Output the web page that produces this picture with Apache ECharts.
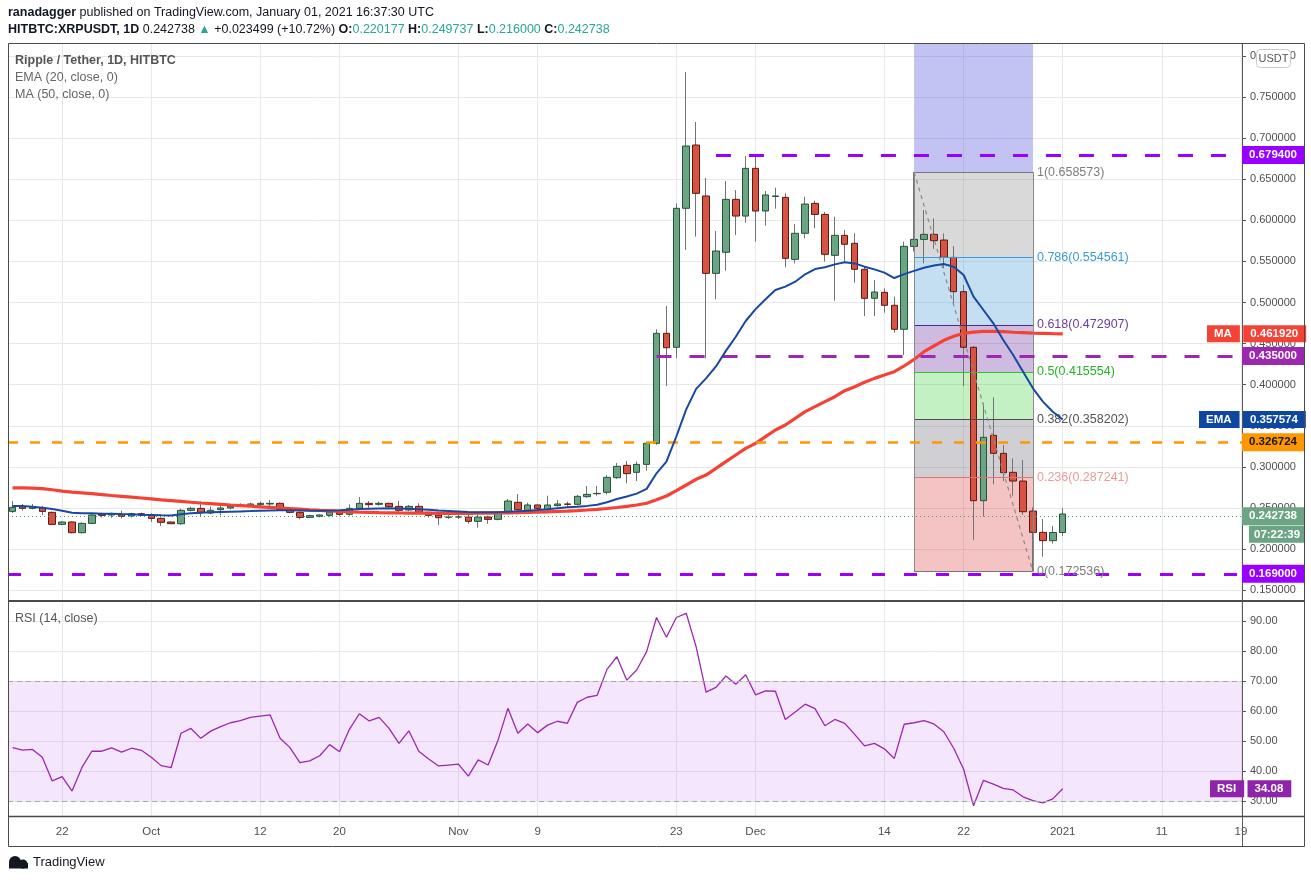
<!DOCTYPE html>
<html><head><meta charset="utf-8">
<script src="https://cdn.jsdelivr.net/npm/echarts@6/dist/echarts.min.js"></script>
<style>html,body{margin:0;padding:0;background:#fff;}#c{width:1311px;height:881px;}</style>
</head><body><div id="c"></div>
<script>
// ---------- DATA ----------
// day index 0 = 2020-09-17 ... 106 = 2021-01-01
const open = [
0.2459,0.2516,0.2496,0.2500,0.2447,0.2301,0.2330,0.2200,0.2313,0.2427,
0.2415,0.2423,0.2403,0.2431,0.2415,0.2374,0.2330,0.2309,0.2472,0.2496,
0.2439,0.2480,0.2500,0.2524,0.2532,0.2541,0.2549,0.2557,0.2476,0.2447,
0.2386,0.2399,0.2411,0.2447,0.2423,0.2496,0.2557,0.2545,0.2557,0.2520,
0.2476,0.2520,0.2447,0.2415,0.2388,0.2390,0.2390,0.2338,0.2390,0.2362,
0.2447,0.2569,0.2472,0.2537,0.2480,0.2529,0.2549,0.2545,0.2638,0.2674,
0.2691,0.2869,0.3019,0.2934,0.3031,0.3287,0.4625,0.4455,0.6146,0.6916,
0.6296,0.5355,0.5611,0.6255,0.6052,0.6632,0.6113,0.6290,0.6279,0.5525,
0.5842,0.6206,0.6072,0.5574,0.5817,0.5720,0.5404,0.5051,0.5124,0.4966,
0.4674,0.5683,0.5768,0.5829,0.5760,0.5549,0.5132,0.4455,0.2589,0.3384,
0.3165,0.2934,0.2828,0.2463,0.2204,0.2103,0.220177];
const high = [
0.2585,0.2549,0.2549,0.2524,0.2459,0.2338,0.2338,0.2326,0.2435,0.2443,
0.2443,0.2468,0.2443,0.2443,0.2435,0.2386,0.2334,0.2492,0.2516,0.2581,
0.2516,0.2524,0.2532,0.2557,0.2565,0.2577,0.2597,0.2565,0.2496,0.2459,
0.2419,0.2423,0.2476,0.2456,0.2545,0.2634,0.2585,0.2577,0.2565,0.2585,
0.2537,0.2557,0.2456,0.2431,0.2423,0.2415,0.2423,0.2427,0.2407,0.2464,
0.2610,0.2670,0.2565,0.2545,0.2650,0.2597,0.2578,0.2658,0.2768,0.2768,
0.2902,0.3048,0.3072,0.3064,0.3307,0.4674,0.4958,0.6205,0.7804,0.7196,
0.6515,0.5870,0.6478,0.6369,0.6782,0.6794,0.6357,0.6397,0.6328,0.5955,
0.6287,0.6239,0.6101,0.6044,0.5882,0.5842,0.5444,0.5274,0.5172,0.5071,
0.5740,0.6586,0.6125,0.6024,0.5841,0.5687,0.5213,0.4471,0.3773,0.3846,
0.3266,0.3104,0.3084,0.2508,0.2366,0.2281,0.249737];
const low = [
0.2440,0.2468,0.2484,0.2411,0.2289,0.2293,0.2192,0.2192,0.2305,0.2386,
0.2380,0.2374,0.2386,0.2403,0.2330,0.2281,0.2305,0.2297,0.2459,0.2395,
0.2423,0.2411,0.2484,0.2516,0.2516,0.2524,0.2516,0.2468,0.2435,0.2362,
0.2378,0.2386,0.2395,0.2407,0.2407,0.2476,0.2496,0.2529,0.2504,0.2435,
0.2464,0.2423,0.2382,0.2293,0.2366,0.2366,0.2309,0.2261,0.2309,0.2350,
0.2423,0.2423,0.2455,0.2472,0.2464,0.2516,0.2516,0.2529,0.2626,0.2650,
0.2666,0.2853,0.2800,0.2828,0.2954,0.3270,0.3984,0.4321,0.5639,0.5801,
0.4321,0.5039,0.5387,0.5821,0.5971,0.5740,0.5935,0.6142,0.5428,0.5477,
0.5781,0.5902,0.5497,0.5022,0.5497,0.5241,0.4836,0.4836,0.4876,0.4633,
0.4361,0.5620,0.5476,0.5651,0.5416,0.4990,0.3984,0.2111,0.2395,0.2788,
0.2828,0.2650,0.2415,0.1725,0.1908,0.2070,0.2160];
const close = [
0.2508,0.2496,0.2516,0.2459,0.2301,0.2330,0.2200,0.2313,0.2415,0.2411,
0.2427,0.2399,0.2431,0.2411,0.2374,0.2326,0.2309,0.2472,0.2496,0.2447,
0.2472,0.2500,0.2520,0.2536,0.2549,0.2557,0.2557,0.2484,0.2447,0.2386,
0.2407,0.2415,0.2451,0.2423,0.2496,0.2557,0.2541,0.2557,0.2516,0.2472,
0.2520,0.2447,0.2411,0.2382,0.2390,0.2392,0.2338,0.2390,0.2362,0.2447,
0.2585,0.2480,0.2537,0.2496,0.2537,0.2549,0.2545,0.2642,0.2666,0.2678,
0.2873,0.3007,0.2918,0.3031,0.3287,0.4625,0.4450,0.6146,0.6904,0.6328,
0.5355,0.5627,0.6255,0.6052,0.6632,0.6113,0.6308,0.6296,0.5537,0.5842,
0.6198,0.6072,0.5586,0.5817,0.5708,0.5404,0.5051,0.5128,0.4966,0.4674,
0.5683,0.5768,0.5829,0.5752,0.5549,0.5132,0.4455,0.2589,0.3360,0.3165,
0.2930,0.2828,0.2455,0.2204,0.2103,0.2202,0.242738];
const ema20 = [
0.2524,0.2524,0.2516,0.2504,0.2488,0.2468,0.2443,0.2435,0.2435,0.2431,
0.2431,0.2427,0.2425,0.2419,0.2415,0.2411,0.2410,0.2423,0.2435,0.2443,
0.2447,0.2451,0.2455,0.2459,0.2463,0.2468,0.2470,0.2472,0.2472,0.2470,
0.2468,0.2467,0.2470,0.2474,0.2480,0.2488,0.2492,0.2495,0.2496,0.2494,
0.2490,0.2485,0.2478,0.2470,0.2464,0.2458,0.2452,0.2448,0.2447,0.2450,
0.2456,0.2462,0.2468,0.2476,0.2486,0.2498,0.2508,0.2516,0.2526,0.2540,
0.2570,0.2610,0.2640,0.2675,0.2733,0.2922,0.3064,0.3370,0.3700,0.3950,
0.4077,0.4222,0.4412,0.4584,0.4775,0.4920,0.5039,0.5152,0.5193,0.5253,
0.5343,0.5407,0.5428,0.5464,0.5489,0.5476,0.5436,0.5403,0.5363,0.5298,
0.5345,0.5385,0.5422,0.5450,0.5468,0.5436,0.5335,0.5071,0.4909,0.4747,
0.4544,0.4361,0.4159,0.3956,0.3794,0.3672,0.357574];
const ma50 = [
0.2745,0.2745,0.2742,0.2735,0.2722,0.2705,0.2694,0.2684,0.2674,0.2663,
0.2652,0.2642,0.2632,0.2622,0.2611,0.2600,0.2590,0.2580,0.2570,0.2561,
0.2553,0.2545,0.2537,0.2530,0.2523,0.2515,0.2508,0.2500,0.2493,0.2486,
0.2478,0.2471,0.2465,0.2459,0.2454,0.2450,0.2447,0.2444,0.2442,0.2440,
0.2439,0.2438,0.2437,0.2436,0.2436,0.2436,0.2436,0.2437,0.2438,0.2440,
0.2442,0.2444,0.2447,0.2450,0.2454,0.2458,0.2463,0.2469,0.2476,0.2484,
0.2494,0.2506,0.2520,0.2537,0.2558,0.2600,0.2646,0.2711,0.2780,0.2849,
0.2901,0.2983,0.3064,0.3145,0.3226,0.3287,0.3368,0.3449,0.3510,0.3591,
0.3672,0.3733,0.3794,0.3854,0.3927,0.3976,0.4029,0.4077,0.4118,0.4159,
0.4228,0.4308,0.4402,0.4471,0.4540,0.4590,0.4625,0.4640,0.4648,0.4648,
0.4645,0.4638,0.4633,0.4628,0.4625,0.4622,0.461920];
const rsi14 = [
47.8,47.0,47.2,44.6,36.7,38.1,33.3,41.2,46.6,46.6,
47.7,46.3,47.6,46.9,44.6,41.8,41.1,52.6,54.2,50.9,
53.3,54.8,56.1,56.8,57.9,58.3,58.7,50.9,47.8,42.8,
43.4,45.1,48.8,46.4,53.9,59.1,56.7,57.9,54.2,49.2,
53.4,46.6,44.0,41.7,42.0,42.3,38.3,43.7,42.0,50.3,
60.9,52.6,55.7,52.8,55.3,56.6,55.9,62.9,64.6,65.2,
73.9,78.1,70.3,73.7,79.8,91.2,84.6,91.2,92.6,81.4,
66.3,67.9,71.7,68.9,72.1,65.4,66.7,66.6,57.2,59.7,
62.3,60.8,55.1,57.2,55.9,52.2,48.4,49.2,47.4,44.2,
55.6,56.1,56.8,55.7,53.1,47.6,40.6,28.4,36.9,35.6,
34.2,33.7,31.4,30.1,29.4,30.7,34.08];

// axis ticks
const tickDays   = [5, 14, 25, 33, 45, 53, 67, 75, 88, 96, 106, 116, 124];
const tickLabels = ['22','Oct','12','20','Nov','9','23','Dec','14','22','2021','11','19'];
const priceTicks = [0.15,0.20,0.25,0.30,0.35,0.40,0.45,0.50,0.55,0.60,0.65,0.70,0.75,0.80];
const rsiTicks   = [30,40,50,60,70,80,90];

// horizontal drawn levels
const levelValues = [0.6794, 0.435, 0.326724, 0.169];
const levelStartDay = [71, 65, null, null];

// fibonacci retracement drawing (Dec 17 high -> Dec 29 low)
const fibStartDay = 91, fibEndDay = 103;
const fibRatios = ['0','0.236','0.382','0.5','0.618','0.786','1'];
const fibValues = [0.172536, 0.287241, 0.358202, 0.415554, 0.472907, 0.554561, 0.658573];

const lastPrice = 0.242738, countdown = '07:22:39';

// ---------- STYLE ----------
const FONT = 'Liberation Sans';
const xMin = -0.464, xMax = 124.1;
const yMin = 0.1381, yMax = 0.8157;
const rMin = 25, rMax = 96.7;
const CLEAR = 'rgba(0,0,0,0)';

const fibLine  = ['#787878','#e57373','#4d4d4d','#2fc42f','#4a2a8c','#3b9be0','#787878'];
const fibText  = ['#7d7d7d','#ee9a9a','#555555','#24b324','#6a3da0','#3d9ad8','#7d7d7d'];
const fibFill  = ['rgba(220,70,70,0.32)','rgba(105,105,120,0.32)','rgba(60,210,60,0.30)',
                  'rgba(110,50,160,0.33)','rgba(60,150,210,0.30)','rgba(128,128,128,0.30)'];

const candleData = open.map((o,i)=>[i, o, close[i], low[i], high[i]]);
const bodyData = open.map((o,i)=>[i, o, close[i], Math.min(o,close[i]), Math.max(o,close[i])]);

function tagStyle(bg, fg){
  return {backgroundColor:bg, color:fg||'#fff', fontFamily:FONT, fontSize:11.5, fontWeight:'bold',
          padding:[3,8,2,7], lineHeight:13};
}

// horizontal level lines
const levelColors = ['#9900ff','#9c27b0','#ff9800','#9900ff'];
const levelWidths = [3,3,2.5,3];
const levelDash = [[15,18],[15,18],[10,12],[13,19]];
const levelLines = levelValues.map((v,k)=>{
  const ls = {color:levelColors[k], width:levelWidths[k], type:levelDash[k]};
  const lb = Object.assign({show:true, position:'end', distance:0,
              formatter:()=>v.toFixed(6)}, tagStyle(levelColors[k], k===2?'#131722':'#fff'));
  if (levelStartDay[k]==null) return {yAxis:v, lineStyle:ls, label:lb};
  return [{coord:[levelStartDay[k], v], lineStyle:ls, label:lb},{coord:[xMax, v]}];
});

// fib pieces
const fibAreas = [];
for (let k=0;k<fibValues.length-1;k++){
  fibAreas.push([{coord:[fibStartDay, fibValues[k]], itemStyle:{color:fibFill[k]}},
                 {coord:[fibEndDay, fibValues[k+1]]}]);
}
fibAreas.push([{coord:[fibStartDay, fibValues[6]], itemStyle:{color:'rgba(80,80,220,0.35)'}},
               {coord:[fibEndDay, yMax]}]);
const fibLines = fibValues.map((v,k)=>[
  {coord:[fibStartDay, v], lineStyle:{color:fibLine[k], width:1, type:'solid'},
   label:{show:true, position:'end', distance:4, formatter:()=>fibRatios[k]+'('+v.toFixed(6)+')',
          color:fibText[k], fontFamily:FONT, fontSize:12.5}},
  {coord:[fibEndDay, v]}]);
fibLines.push([{coord:[fibStartDay, fibValues[0]], lineStyle:{color:'#8a8a8a', width:1, type:'solid'}, label:{show:false}},
               {coord:[fibStartDay, fibValues[6]]}]);
fibLines.push([{coord:[fibEndDay, fibValues[0]], lineStyle:{color:'#8a8a8a', width:1, type:'solid'}, label:{show:false}},
               {coord:[fibEndDay, fibValues[6]]}]);
fibLines.push([{coord:[fibStartDay, fibValues[6]], lineStyle:{color:'#8a8a8a', width:1.2, type:[4,4]}, label:{show:false}},
               {coord:[fibEndDay, fibValues[0]]}]);

const gridLineColor = '#e8e8e8';

function axisTag(value, text, name, bg, dist){
  return [{coord:[xMax-0.01, value], lineStyle:{color:CLEAR, width:0},
           label:{show:true, position:'end', distance:dist,
             formatter:()=>'{n|'+name+'} {v|'+text+'}',
             rich:{n:tagStyle(bg), v:tagStyle(bg)}}},
          {coord:[xMax, value]}];
}

const option = {
  animation:false,
  backgroundColor:'#ffffff',
  grid:[
    {left:8, right:69, top:43, height:557},
    {left:8, right:69, top:601, height:215}
  ],
  xAxis:[
    {type:'value', gridIndex:0, min:xMin, max:xMax,
     axisLine:{show:false, onZero:false}, axisTick:{show:false, customValues:tickDays},
     axisLabel:{show:false, customValues:tickDays},
     splitLine:{show:true, lineStyle:{color:gridLineColor, width:1}}},
    {type:'value', gridIndex:1, min:xMin, max:xMax,
     axisLine:{show:false, onZero:false}, axisTick:{show:false, customValues:tickDays},
     axisLabel:{show:true, customValues:tickDays, margin:10,
       formatter:(v)=>{const j=tickDays.indexOf(Math.round(v)); return j>=0?tickLabels[j]:'';},
       color:'#4f4f4f', fontFamily:FONT, fontSize:11.5},
     splitLine:{show:true, lineStyle:{color:gridLineColor, width:1}}}
  ],
  yAxis:[
    {type:'value', gridIndex:0, position:'right', min:yMin, max:yMax,
     axisLine:{show:false, onZero:false},
     axisTick:{show:true, length:4, customValues:priceTicks, lineStyle:{color:'#555'}},
     axisLabel:{customValues:priceTicks, formatter:(v)=>v.toFixed(6), color:'#4f4f4f',
       fontFamily:FONT, fontSize:11, margin:8},
     splitLine:{show:true, lineStyle:{color:gridLineColor, width:1}}},
    {type:'value', gridIndex:1, position:'right', min:rMin, max:rMax,
     axisLine:{show:false, onZero:false},
     axisTick:{show:true, length:4, customValues:rsiTicks, lineStyle:{color:'#555'}},
     axisLabel:{customValues:rsiTicks, formatter:(v)=>v.toFixed(2), color:'#4f4f4f',
       fontFamily:FONT, fontSize:11, margin:8},
     splitLine:{show:true, lineStyle:{color:gridLineColor, width:1}}}
  ],
  series:[
    {name:'wick', type:'candlestick', xAxisIndex:0, yAxisIndex:0, z:2,
     encode:{x:0, y:[1,2,3,4]}, data:candleData, barWidth:1,
     itemStyle:{color:'#737375', color0:'#737375', borderColor:'#737375', borderColor0:'#737375', borderWidth:1}},
    {name:'body', type:'candlestick', xAxisIndex:0, yAxisIndex:0, z:2,
     encode:{x:0, y:[1,2,3,4]}, data:bodyData, barWidth:7,
     itemStyle:{color:'#6ba583', color0:'#d75442', borderColor:'#225437', borderColor0:'#5b1a13', borderWidth:1}},
    {name:'fib', type:'line', xAxisIndex:0, yAxisIndex:0, z:3, data:[], silent:true,
     markArea:{silent:true, data:fibAreas},
     markLine:{silent:true, symbol:['none','none'], data:fibLines}},
    {name:'MA', type:'line', xAxisIndex:0, yAxisIndex:0, z:4, data:ma50.map((v,i)=>[i,v]),
     showSymbol:false, symbol:'none', lineStyle:{color:'#f44336', width:3.2},
     markLine:{silent:true, symbol:['none','none'],
       data:[axisTag(ma50[ma50.length-1], ma50[ma50.length-1].toFixed(6), 'MA', '#f44336', -35)]}},
    {name:'EMA', type:'line', xAxisIndex:0, yAxisIndex:0, z:5, data:ema20.map((v,i)=>[i,v]),
     showSymbol:false, symbol:'none', lineStyle:{color:'#1848a0', width:2},
     markLine:{silent:true, symbol:['none','none'],
       data:[axisTag(ema20[ema20.length-1], ema20[ema20.length-1].toFixed(6), 'EMA', '#0d47a1', -43)]}},
    {name:'levels', type:'line', xAxisIndex:0, yAxisIndex:0, z:6, data:[], silent:true,
     markLine:{silent:true, symbol:['none','none'], data:levelLines.concat([
       {yAxis:lastPrice, lineStyle:{color:'#4f9a6c', width:1, type:[1,3]},
        label:Object.assign({show:true, position:'end', distance:0, formatter:()=>lastPrice.toFixed(6)}, tagStyle('#6ba583'))},
       {yAxis:lastPrice, lineStyle:{color:CLEAR, width:0},
        label:{show:true, position:'end', distance:7,
          formatter:()=>'{e|}\n{t|'+countdown+'}',
          rich:{e:{height:36}, t:Object.assign(tagStyle('#6ba583'), {padding:[3,5,2,5]})}}}
     ])}},
    {name:'RSI', type:'line', xAxisIndex:1, yAxisIndex:1, z:4, data:rsi14.map((v,i)=>[i,v]),
     showSymbol:false, symbol:'none', lineStyle:{color:'#9c27b0', width:1.3},
     markArea:{silent:true, data:[[{yAxis:30, itemStyle:{color:'rgba(180,100,240,0.16)'}},{yAxis:70}]]},
     markLine:{silent:true, symbol:['none','none'], data:[
       {yAxis:70, lineStyle:{color:'#a8a8a8', width:1, type:[5,4]}, label:{show:false}},
       {yAxis:30, lineStyle:{color:'#a8a8a8', width:1, type:[5,4]}, label:{show:false}},
       axisTag(rsi14[rsi14.length-1], rsi14[rsi14.length-1].toFixed(2), 'RSI', '#8e24aa', -32)
     ]}}
  ],
  graphic:[
    // frame and separators
    {type:'rect', z:100, silent:true, shape:{x:8.5,y:43.5,width:1296,height:803},
     style:{fill:'none', stroke:'#4a4a4a', lineWidth:1}},
    {type:'line', z:100, silent:true, shape:{x1:8,y1:601,x2:1305,y2:601}, style:{stroke:'#4a4a4a', lineWidth:2}},
    {type:'line', z:100, silent:true, shape:{x1:8,y1:816.5,x2:1305,y2:816.5}, style:{stroke:'#4a4a4a', lineWidth:1.5}},
    {type:'line', z:1, silent:true, shape:{x1:1242.5,y1:43,x2:1242.5,y2:846}, style:{stroke:'#5a5a5a', lineWidth:1}},
    // header
    {type:'text', z:100, x:8, y:13, style:{text:'{b|ranadagger} published on TradingView.com, January 01, 2021 16:37:30 UTC',
      fill:'#131722', fontFamily:FONT, fontSize:12.5, verticalAlign:'middle',
      rich:{b:{fontWeight:'bold', fontFamily:FONT, fontSize:12.5, fill:'#131722'}}}},
    {type:'text', z:100, x:8, y:30, style:{
      text:'{b|HITBTC:XRPUSDT, 1D} 0.242738 {g|\u25B2} +0.023499 (+10.72%) {b|O:}{g|0.220177} {b|H:}{g|0.249737} {b|L:}{g|0.216000} {b|C:}{g|0.242738}',
      fill:'#131722', fontFamily:FONT, fontSize:12.5, verticalAlign:'middle',
      rich:{b:{fontWeight:'bold', fontFamily:FONT, fontSize:12.5, fill:'#131722'},
            g:{fontFamily:FONT, fontSize:12.5, fill:'#2aa596'}}}},
    // pane legends
    {type:'text', z:100, x:15, y:61, style:{text:'Ripple / Tether, 1D, HITBTC', fill:'#555', fontFamily:FONT, fontSize:12.5, fontWeight:'bold', verticalAlign:'middle'}},
    {type:'text', z:100, x:15, y:78, style:{text:'EMA (20, close, 0)', fill:'#666', fontFamily:FONT, fontSize:12.5, verticalAlign:'middle'}},
    {type:'text', z:100, x:15, y:95, style:{text:'MA (50, close, 0)', fill:'#666', fontFamily:FONT, fontSize:12.5, verticalAlign:'middle'}},
    {type:'text', z:100, x:15, y:619, style:{text:'RSI (14, close)', fill:'#555', fontFamily:FONT, fontSize:12.5, verticalAlign:'middle'}},
    // USDT box
    {type:'rect', z:100, silent:true, shape:{x:1256.5,y:49.5,width:34,height:18,r:4},
     style:{fill:'#fff', stroke:'#c9c9d0', lineWidth:1}},
    {type:'text', z:101, x:1273.5, y:59, style:{text:'USDT', fill:'#555', fontFamily:FONT, fontSize:11, align:'center', verticalAlign:'middle'}},
    // TradingView logo
    {type:'circle', z:100, shape:{cx:15,cy:862,r:6}, style:{fill:'#131722'}},
    {type:'circle', z:100, shape:{cx:23,cy:864,r:4.5}, style:{fill:'#131722'}},
    {type:'rect', z:100, shape:{x:9,y:863,width:19,height:5.5}, style:{fill:'#131722'}},
    {type:'text', z:100, x:33, y:862, style:{text:'TradingView', fill:'#131722', fontFamily:FONT, fontSize:13, verticalAlign:'middle'}}
  ]
};
const chart = echarts.init(document.getElementById('c'));
chart.setOption(option);
</script>
</body></html>
